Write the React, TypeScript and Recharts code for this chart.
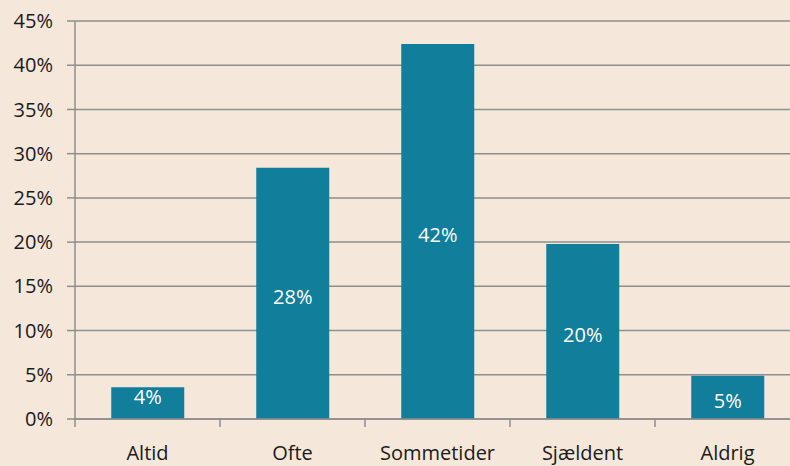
import React from 'react';
import { BarChart, Bar, XAxis, YAxis, CartesianGrid, LabelList } from 'recharts';

const categories = ['Altid', 'Ofte', 'Sommetider', 'Sjældent', 'Aldrig'];
const values = [3.6, 28.4, 42.4, 19.8, 4.9];
const labels = ['4%', '28%', '42%', '20%', '5%'];
const yTicks = [0, 5, 10, 15, 20, 25, 30, 35, 40, 45];

const data = categories.map((c, i) => ({ name: c, value: values[i], label: labels[i] }));

const CHART_W = 800;
const MARGIN_L = 15;
const Y_W = 60;
const PLOT_W = CHART_W - MARGIN_L - Y_W;
const BAND = PLOT_W / categories.length;
const FONT = '"Open Sans", sans-serif';
const GRID = '#8e8e8e';
const FS = 20;

const XTick = (props: any) => {
  const { x, y, payload, index } = props;
  return (
    <g>
      <line x1={x - BAND / 2} x2={x - BAND / 2} y1={y} y2={y + 8} stroke={GRID} strokeWidth={1.5} />
      {index === categories.length - 1 && (
        <line x1={x + BAND / 2} x2={x + BAND / 2} y1={y} y2={y + 8} stroke={GRID} strokeWidth={1.5} />
      )}
      <text x={x} y={y + 41} textAnchor="middle" fill="#1a1a1a" fontSize={FS} fontFamily={FONT}>
        {payload.value}
      </text>
    </g>
  );
};

const BarLabel = (props: any) => {
  const { x, y, width, height, value } = props;
  const cy = height < 35 ? y + 9 : y + height / 2 + 3;
  return (
    <text x={x + width / 2} y={cy} textAnchor="middle" dominantBaseline="central" fill="#ffffff" fontSize={FS} fontFamily={FONT}>
      {value}
    </text>
  );
};

export default function App() {
  return (
    <div style={{ position: 'absolute', left: 0, top: 0, width: 790, height: 466, overflow: 'hidden', background: '#f5e8db' }}>
      <BarChart width={CHART_W} height={466} data={data} margin={{ top: 21, right: 0, bottom: 0, left: MARGIN_L }} barCategoryGap="25%">
        <CartesianGrid vertical={false} stroke={GRID} strokeWidth={1.5} />
        <XAxis
          dataKey="name"
          height={47}
          axisLine={{ stroke: GRID, strokeWidth: 1.5 }}
          tickLine={false}
          tickSize={0}
          tickMargin={0}
          tick={<XTick />}
          interval={0}
        />
        <YAxis
          width={Y_W}
          domain={[0, 45]}
          ticks={yTicks}
          interval={0}
          tickFormatter={(v: number) => `${v}%`}
          axisLine={{ stroke: GRID, strokeWidth: 1.5 }}
          tickLine={{ stroke: GRID, strokeWidth: 1.5 }}
          tickSize={8}
          tickMargin={14}
          tick={{ fill: '#1a1a1a', fontSize: FS, fontFamily: FONT }}
        />
        <Bar dataKey="value" fill="#117e9b" isAnimationActive={false}>
          <LabelList dataKey="label" content={<BarLabel />} />
        </Bar>
      </BarChart>
    </div>
  );
}
